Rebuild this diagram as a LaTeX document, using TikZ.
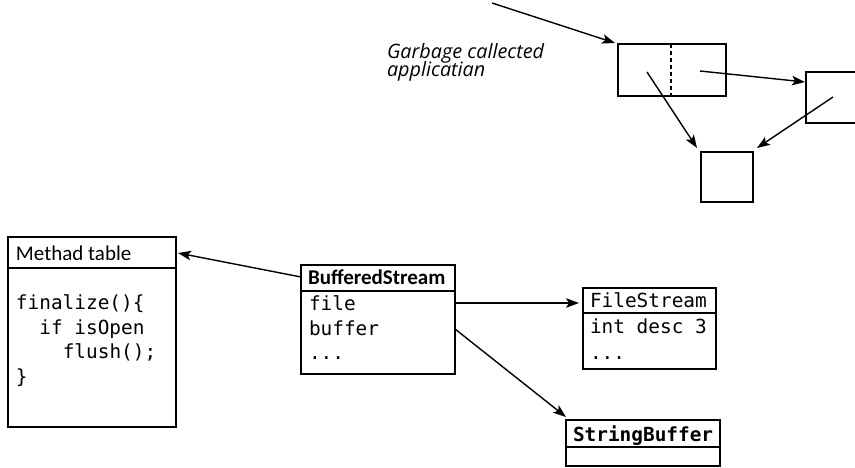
\documentclass[tikz,border=0pt]{standalone}
\usepackage{fontspec}
\setmainfont{Carlito}
\newfontfamily\monof{DejaVu Sans Mono}
\newfontfamily\italf{Open Sans}
\usetikzlibrary{arrows.meta}
\begin{document}
\begin{tikzpicture}[x=1pt,y=-1pt,
  box/.style={draw,line width=1.9pt,inner sep=0pt,outer sep=0pt,anchor=north west},
  divider/.style={line width=1.6pt},
  conn/.style={line width=1.4pt,-{Stealth[length=13pt,width=9.5pt,inset=3pt]}},
  sanstxt/.style={inner sep=0pt,outer sep=0pt,anchor=base west,font=\fontsize{21}{24}\selectfont},
  boldtxt/.style={sanstxt,font=\fontsize{21}{24}\selectfont\bfseries},
  monotxt/.style={inner sep=0pt,outer sep=0pt,anchor=base west,font=\monof\fontsize{19.4}{24}\selectfont},
  monobold/.style={monotxt,font=\monof\fontsize{19.4}{24}\selectfont\bfseries},
  itxt/.style={inner sep=0pt,outer sep=0pt,anchor=base west,font=\italf\itshape\fontsize{19.8}{18}\selectfont}
]
\useasboundingbox (0,0) rectangle (855,468);
\clip (0,0) rectangle (855,468);

% ---------- top part ----------
\node[box,minimum width=108pt,minimum height=52pt] (A) at (618,44) {};
\node[box,minimum width=70pt,minimum height=51pt] (B) at (806,72) {};
\node[box,minimum width=52pt,minimum height=50pt] (C) at (701,152) {};
\draw[line width=1.3pt,dash pattern=on 4pt off 3pt] (A.north) ++(-1,0) coordinate (dtop) -- (dtop |- A.south);

\node[itxt] (g1) at (387,59) {Garbage callected};
\node[itxt] (g2) at (387,77) {applicatian};

\coordinate (root) at (492,3);
\coordinate (pa) at (647,72);
\coordinate (pb) at (700,71);
\coordinate (pc) at (833,97);
\draw[conn] (root) -- ([xshift=-3pt,yshift=1pt]A.north west);
\draw[conn] (pa) -- ([xshift=-4pt,yshift=4pt]C.north west);
\draw[conn] (pb) -- ([xshift=-1pt,yshift=-10pt]B.north west);
\draw[conn] (pc) -- ([xshift=4pt,yshift=4pt]C.north east);

% ---------- bottom part ----------
\node[box,minimum width=168pt,minimum height=190pt] (MT) at (8,237) {};
\draw[divider] ([yshift=-31pt]MT.north west) -- ([yshift=-31pt]MT.north east);
\node[sanstxt] (mth) at (16,260) {Methad table};
\node[monotxt] (m1) at (16,309) {finalize()\{};
\node[monotxt] (m2) at (39.4,334) {if isOpen};
\node[monotxt] (m3) at (62.8,358) {flush();};
\node[monotxt] (m4) at (16,383) {\}};

\node[box,minimum width=154pt,minimum height=109pt] (BS) at (301,265) {};
\draw[divider] ([yshift=-26pt]BS.north west) -- ([yshift=-26pt]BS.north east);
\node[boldtxt] (bsh) at (308,284) {BufferedStream};
\node[monotxt] (b1) at (309,310) {file};
\node[monotxt] (b2) at (309,335) {buffer};
\node[monotxt] (b3) at (309,359) {...};

\node[box,minimum width=133pt,minimum height=81pt] (FS) at (583,288) {};
\draw[divider] ([yshift=-25pt]FS.north west) -- ([yshift=-25pt]FS.north east);
\node[monotxt] (fsh) at (590,307) {FileStream};
\node[monotxt] (f1) at (590,333) {int desc 3};
\node[monotxt] (f2) at (590,359) {...};

\node[box,minimum width=154pt,minimum height=46pt] (SB) at (566,420) {};
\draw[divider] ([yshift=-27pt]SB.north west) -- ([yshift=-27pt]SB.north east);
\node[monobold] (sbh) at (573,441) {StringBuffer};

\draw[conn] ([yshift=-12pt]BS.north west) -- ([xshift=2pt,yshift=-16pt]MT.north east);
\draw[conn] ([yshift=-38pt]BS.north east) -- ([xshift=-4pt,yshift=-15pt]FS.north west);
\draw[conn] ([yshift=-64pt]BS.north east) -- ([yshift=3pt]SB.north west);
\end{tikzpicture}
\end{document}
